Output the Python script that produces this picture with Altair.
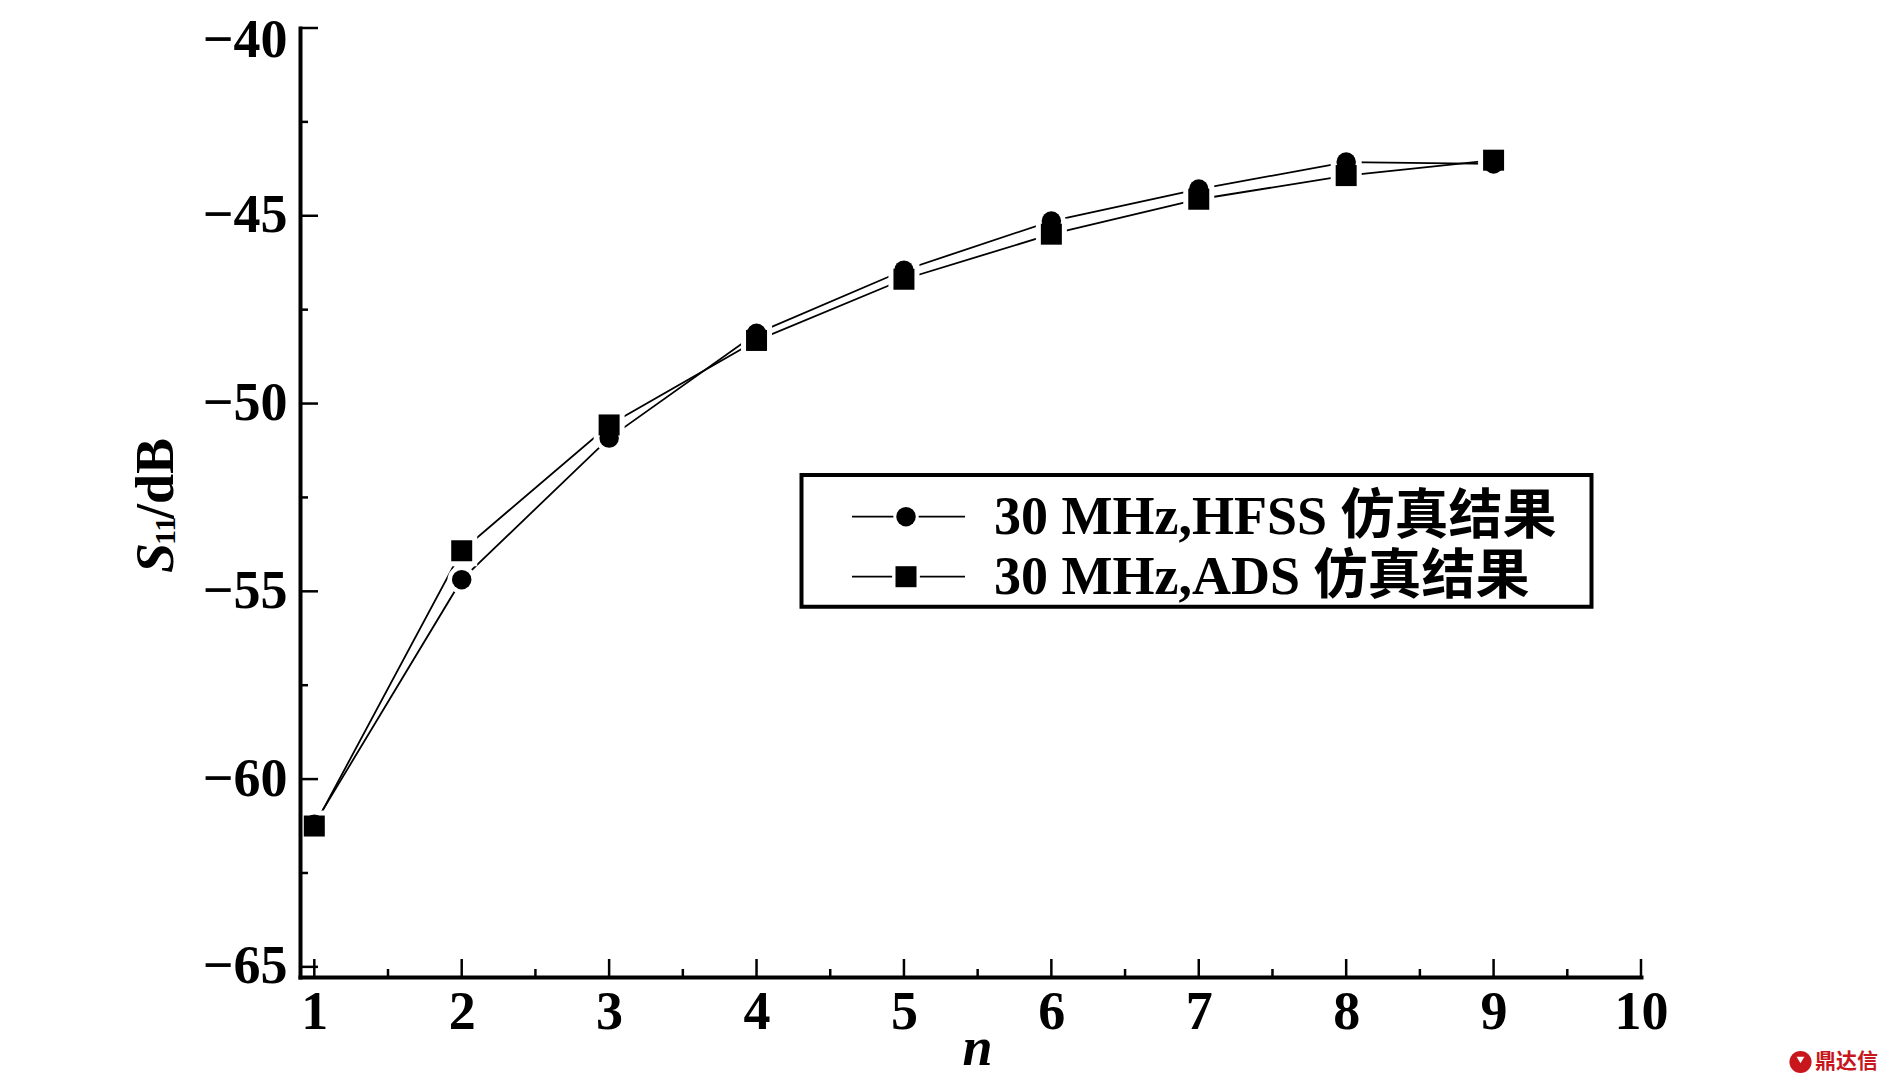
import altair as alt
import pandas as pd

# ---- data ----
n_values = [1, 2, 3, 4, 5, 6, 7, 8, 9]
hfss_s11 = [-61.20, -54.69, -50.92, -48.13, -46.45, -45.14, -44.29, -43.57, -43.62]
ads_s11 = [-61.25, -53.92, -50.57, -48.32, -46.69, -45.49, -44.56, -43.93, -43.52]
series_names = ["30 MHz,HFSS 仿真结果", "30 MHz,ADS 仿真结果"]
series_shapes = ["circle", "square"]
x_major = [1, 2, 3, 4, 5, 6, 7, 8, 9, 10]
x_minor = [1.5, 2.5, 3.5, 4.5, 5.5, 6.5, 7.5, 8.5, 9.5]
y_major = [-40, -45, -50, -55, -60, -65]
y_minor = [-42.5, -47.5, -52.5, -57.5, -62.5]
watermark_text = "鼎达信"

# ---- layout / style ----
TOP = 20
W, H = 1341, 949
FONT = "Liberation Serif"
CJK_FONT = "Liberation Serif, Noto Sans CJK SC"
MARK_SIZE = {"circle": 380, "square": 441}
HALO_SIZE = {"circle": 804, "square": 961}

df = pd.DataFrame({
    "n": n_values * 2,
    "s11": hfss_s11 + ads_s11,
    "series": [series_names[0]] * len(n_values) + [series_names[1]] * len(n_values),
})
one = pd.DataFrame({"k": [0]})

x_scale = alt.Scale(domain=[0.903, 10], nice=False, zero=False)
y_scale = alt.Scale(domain=[-65.27, -40], nice=False, zero=False)

x_axis = alt.Axis(
    values=x_major, format="d", title="n", grid=False, ticks=False, tickSize=0,
    domainColor="black", domainWidth=4, domainCap="square", zindex=1,
    labelFont=FONT, labelFontWeight="bold", labelFontSize=54, labelColor="black",
    labelPadding=8, labelFlush=False, labelOverlap=False,
    titleFont=FONT, titleFontStyle="italic", titleFontWeight="bold", titleFontSize=54,
    titleColor="black", titleX=677, titleY=87, titleBaseline="alphabetic", titleAlign="center",
)
y_axis = alt.Axis(
    values=y_major, format="d", title=None, grid=False, ticks=False, tickSize=0,
    domainColor="black", domainWidth=4, domainCap="square", zindex=1,
    labelFont=FONT, labelFontWeight="bold", labelFontSize=54, labelColor="black",
    labelPadding=13, labelFlush=False, labelOverlap=False,
    labelOffset={"condition": {"test": "datum.value == -40", "value": 12}, "value": 0},
)
x_enc = alt.X("n:Q", scale=x_scale, axis=x_axis)
y_enc = alt.Y("s11:Q", scale=y_scale, axis=y_axis)

layers = []

# lines
layers.append(
    alt.Chart(df).mark_line(color="black", strokeWidth=1.8).encode(
        x=x_enc, y=y_enc, detail="series:N"
    )
)
# white halos (gap between line and marker)
for name, shp in zip(series_names, series_shapes):
    layers.append(
        alt.Chart(df).transform_filter(alt.datum.series == name).mark_point(
            shape=shp, filled=True, color="white", opacity=1, size=HALO_SIZE[shp]
        ).encode(x=x_enc, y=y_enc)
    )
# markers
for name, shp in zip(series_names, series_shapes):
    layers.append(
        alt.Chart(df).transform_filter(alt.datum.series == name).mark_point(
            shape=shp, filled=True, color="black", opacity=1, size=MARK_SIZE[shp]
        ).encode(x=x_enc, y=y_enc)
    )

# inward ticks
layers.append(alt.Chart(pd.DataFrame({"s11": y_major})).mark_rule(color="black", strokeWidth=2.5)
              .encode(y=y_enc, x=alt.value(0), x2=alt.value(18)))
layers.append(alt.Chart(pd.DataFrame({"s11": y_minor})).mark_rule(color="black", strokeWidth=2.5)
              .encode(y=y_enc, x=alt.value(0), x2=alt.value(8)))
layers.append(alt.Chart(pd.DataFrame({"n": x_major})).mark_rule(color="black", strokeWidth=2.5)
              .encode(x=x_enc, y=alt.value(H - 18), y2=alt.value(H)))
layers.append(alt.Chart(pd.DataFrame({"n": x_minor})).mark_rule(color="black", strokeWidth=2.5)
              .encode(x=x_enc, y=alt.value(H - 8), y2=alt.value(H)))

# y-axis title: S (italic) + 11 (subscript) + /dB
dy = 24 - (8 + TOP)  # reference page offsets -> plot coordinates
layers.append(alt.Chart(one).mark_text(
    angle=270, align="left", baseline="alphabetic", font=FONT, fontSize=54,
    fontWeight="bold", fontStyle="italic", color="black"
).encode(x=alt.value(-127), y=alt.value(549 + dy), text=alt.value("S")))
layers.append(alt.Chart(one).mark_text(
    angle=270, align="left", baseline="alphabetic", font=FONT, fontSize=30,
    fontWeight="bold", color="black"
).encode(x=alt.value(-125), y=alt.value(521 + dy), text=alt.value("11")))
layers.append(alt.Chart(one).mark_text(
    angle=270, align="left", baseline="alphabetic", font=FONT, fontSize=54,
    fontWeight="bold", color="black"
).encode(x=alt.value(-127), y=alt.value(495 + dy), text=alt.value("/dB")))

# legend
layers.append(alt.Chart(one).mark_rect(fill="white", stroke="black", strokeWidth=4).encode(
    x=alt.value(501.5), x2=alt.value(1291.5), y=alt.value(451 + dy), y2=alt.value(582.7 + dy)))
leg_y0, leg_dy = 492.7 + dy, 60
for i, (name, shp) in enumerate(zip(series_names, series_shapes)):
    ry = leg_y0 + i * leg_dy
    layers.append(alt.Chart(one).mark_rule(color="black", strokeWidth=1.8).encode(
        x=alt.value(552), x2=alt.value(665), y=alt.value(ry)))
    layers.append(alt.Chart(one).mark_point(shape=shp, filled=True, color="white", opacity=1,
                                            size=HALO_SIZE[shp] * 0.8).encode(
        x=alt.value(606), y=alt.value(ry)))
    layers.append(alt.Chart(one).mark_point(shape=shp, filled=True, color="black", opacity=1,
                                            size=MARK_SIZE[shp]).encode(
        x=alt.value(606), y=alt.value(ry)))
    layers.append(alt.Chart(one).mark_text(
        align="left", baseline="middle", font=CJK_FONT, fontSize=54, fontWeight="bold", color="black"
    ).encode(x=alt.value(694), y=alt.value(ry + 1), text=alt.value(name)))

# watermark
layers.append(alt.Chart(one).mark_point(shape="circle", filled=True, color="#c8161d", opacity=1,
                                        size=490).encode(x=alt.value(1500.5), y=alt.value(1038 + dy)))
layers.append(alt.Chart(one).mark_point(shape="triangle-down", filled=True, color="white", opacity=1,
                                        size=60).encode(x=alt.value(1500.5), y=alt.value(1036 + dy)))
layers.append(alt.Chart(one).mark_text(
    align="left", baseline="middle", font="Noto Sans CJK SC", fontSize=21, fontWeight="bold",
    color="#c8161d"
).encode(x=alt.value(1515), y=alt.value(1038 + dy), text=alt.value(watermark_text)))

chart = alt.layer(*layers).properties(
    width=W, height=H,
    autosize=alt.AutoSizeParams(type="none"),
    padding={"left": 292, "top": TOP, "right": 240, "bottom": 99},
    background="white",
).configure_view(stroke=None)

chart.save("out.html", embed_options={"renderer": "svg", "actions": False})
